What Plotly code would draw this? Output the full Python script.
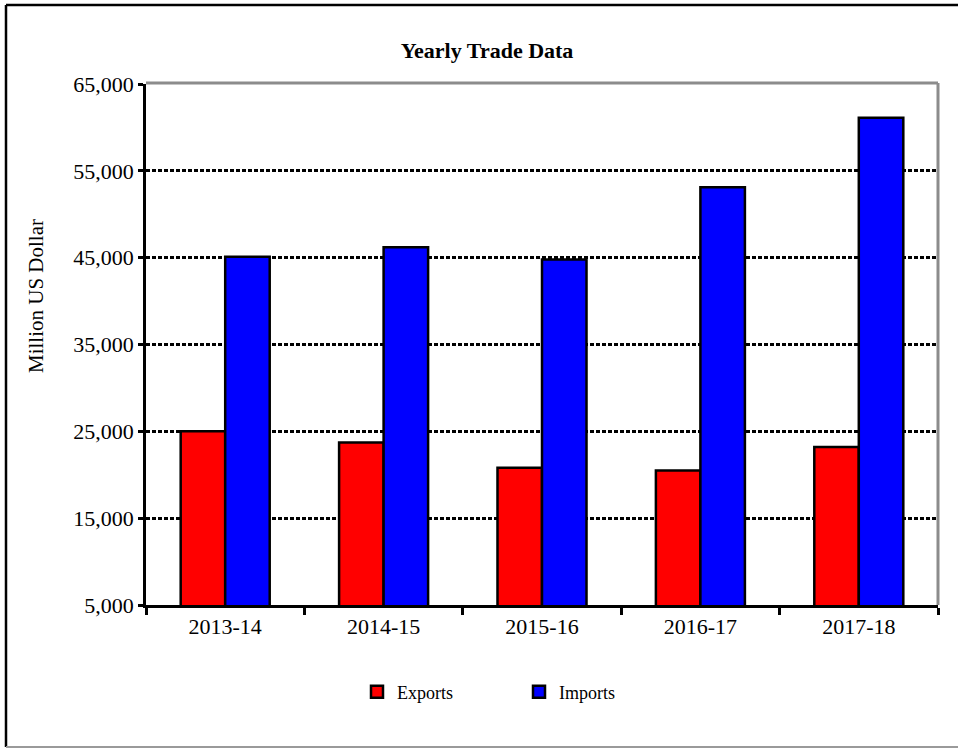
import plotly.graph_objects as go

categories = ["2013-14", "2014-15", "2015-16", "2016-17", "2017-18"]
exports = [25000, 23700, 20800, 20500, 23200]
imports = [45100, 46200, 44800, 53100, 61100]
y_ticks = [5000, 15000, 25000, 35000, 45000, 55000, 65000]

W, H = 958, 749
L, R, T, B = 146, 20, 84, 144
PW, PH = W - L - R, H - T - B

def px(x):
    return (x - L) / PW

def py(y):
    return (H - B - y) / PH

FONT = "Liberation Serif, Times New Roman, serif"

fig = go.Figure()
fig.add_trace(go.Bar(name="Exports", x=categories, y=exports,
                     marker=dict(color="#ff0000", line=dict(color="black", width=2.5))))
fig.add_trace(go.Bar(name="Imports", x=categories, y=imports,
                     marker=dict(color="#0000ff", line=dict(color="black", width=2.5))))

shapes = [
    # gray top and right border of plot area
    dict(type="line", xref="paper", yref="paper", x0=0, x1=1, y0=py(83), y1=py(83),
         line=dict(color="#8c8c8c", width=3)),
    dict(type="line", xref="paper", yref="paper", x0=1, x1=1, y0=0, y1=py(83),
         line=dict(color="#8c8c8c", width=3)),
    # outer chart border
    dict(type="line", xref="paper", yref="paper", x0=px(6), x1=px(6), y0=py(5), y1=py(747),
         line=dict(color="black", width=2.5)),
    dict(type="line", xref="paper", yref="paper", x0=px(6), x1=px(970), y0=py(5), y1=py(5),
         line=dict(color="black", width=2.5)),
    dict(type="line", xref="paper", yref="paper", x0=px(6), x1=px(970), y0=py(747), y1=py(747),
         line=dict(color="#9a9a9a", width=2)),
]

fig.update_layout(
    width=W, height=H,
    margin=dict(l=L, r=R, t=T, b=B, pad=0),
    paper_bgcolor="white", plot_bgcolor="white",
    barmode="group", bargap=0.438, bargroupgap=0,
    font=dict(family=FONT, color="black", size=22),
    title=dict(text="<b>Yearly Trade Data</b>", x=487 / W, xanchor="center",
               y=1 - 50 / H, yanchor="middle", yref="container",
               font=dict(family=FONT, size=22, color="black")),
    xaxis=dict(showline=True, linecolor="black", linewidth=2.5, ticks="outside",
               tickson="boundaries", ticklen=7, tickwidth=2.5, tickcolor="black",
               showgrid=False, tickfont=dict(size=22), mirror=False),
    yaxis=dict(range=[5000, 65000], tickvals=y_ticks, tickformat=",",
               showline=True, linecolor="black", linewidth=2.5, ticks="outside",
               ticklen=5, tickwidth=3, tickcolor="black",
               showgrid=True, gridcolor="black", gridwidth=2.5, griddash="4px,2px",
               zeroline=False, tickfont=dict(size=22)),
    legend=dict(orientation="h", x=px(357), xanchor="left", y=py(692), yanchor="middle",
                font=dict(family=FONT, size=18, color="black"), entrywidth=117,
                bgcolor="rgba(0,0,0,0)", itemwidth=30),
    shapes=shapes,
    annotations=[dict(text="Million US Dollar", xref="paper", yref="paper",
                      x=px(36), y=py(296), textangle=-90, showarrow=False,
                      xanchor="center", yanchor="middle",
                      font=dict(family=FONT, size=21, color="black"))],
)

fig.write_html("out.html", config={"displayModeBar": False},
               post_script="document.body.style.margin='0';")
